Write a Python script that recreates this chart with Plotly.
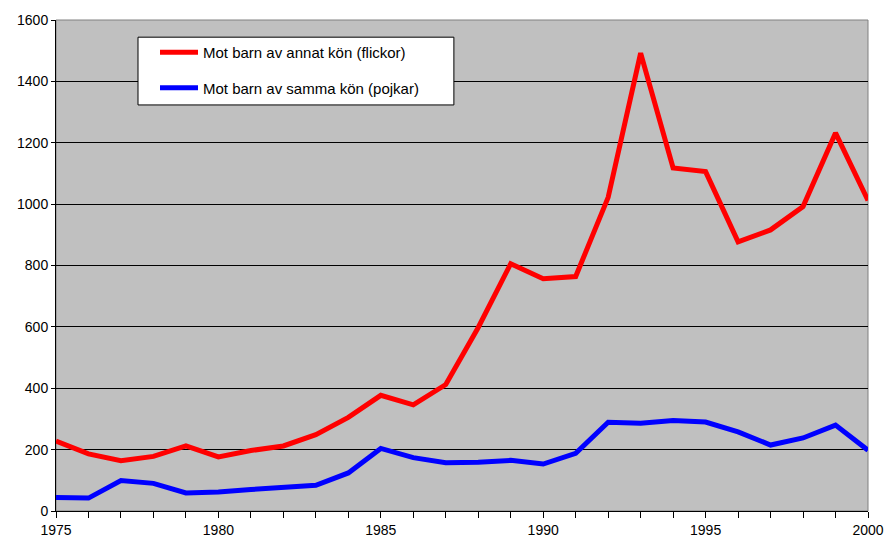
import plotly.graph_objects as go

years = list(range(1975, 2001))
flickor = [228, 186, 164, 178, 212, 176, 197, 212, 249, 305, 377, 346, 412, 598,
           806, 757, 764, 1022, 1492, 1118, 1106, 877, 916, 992, 1232, 1012]
pojkar = [44, 42, 99, 90, 59, 62, 70, 79, 84, 124, 204, 174, 157, 159,
          165, 153, 188, 289, 286, 295, 290, 258, 215, 238, 280, 198]
names = ["Mot barn av annat kön (flickor)", "Mot barn av samma kön (pojkar)"]

FONT = "Liberation Sans, Arial, sans-serif"

fig = go.Figure()
fig.add_trace(go.Scatter(x=years, y=flickor, mode="lines", name=names[0],
                         line=dict(color="#ff0000", width=5), legendgroup="a"))
fig.add_trace(go.Scatter(x=years, y=pojkar, mode="lines", name=names[1],
                         line=dict(color="#0000ff", width=5), legendgroup="b"))

# plot-area border (gray) and legend box
fig.add_shape(type="rect", xref="paper", yref="paper", x0=0, x1=1, y0=0, y1=1,
              line=dict(color="#808080", width=1), layer="below")
fig.add_shape(type="rect", xref="paper", yref="paper", x0=0.101, x1=0.490, y0=0.827, y1=0.965,
              line=dict(color="black", width=1), fillcolor="white", layer="above")

fig.update_layout(
    width=886, height=541,
    margin=dict(l=56, r=18, t=20, b=30, autoexpand=False),
    paper_bgcolor="white", plot_bgcolor="#c0c0c0",
    font=dict(family=FONT, size=14, color="black"),
    showlegend=True,
    legend=dict(x=(155 - 56) / 812, y=(511 - 36) / 491, xanchor="left", yanchor="top",
                bgcolor="rgba(0,0,0,0)", borderwidth=0,
                font=dict(family=FONT, size=15, color="black"),
                tracegroupgap=13, itemwidth=38, traceorder="grouped"),
    xaxis=dict(range=[1975, 2000], dtick=5, tick0=1975, showgrid=False, automargin=False,
               showline=True, linecolor="black", linewidth=1,
               ticks="outside", ticklen=6, tickcolor="black",
               minor=dict(dtick=1, ticks="outside", ticklen=6, tickcolor="black", showgrid=False),
               zeroline=False, tickfont=dict(size=14)),
    yaxis=dict(range=[0, 1600], dtick=200, showgrid=True, gridcolor="black", gridwidth=1,
               showline=True, linecolor="black", linewidth=1, automargin=False,
               ticks="outside", ticklen=4, tickcolor="black",
               zeroline=False, tickfont=dict(size=14)),
)

fig.write_html("out.html", config={"displayModeBar": False},
               post_script="document.body.style.margin='0px';document.body.style.overflow='hidden';")
